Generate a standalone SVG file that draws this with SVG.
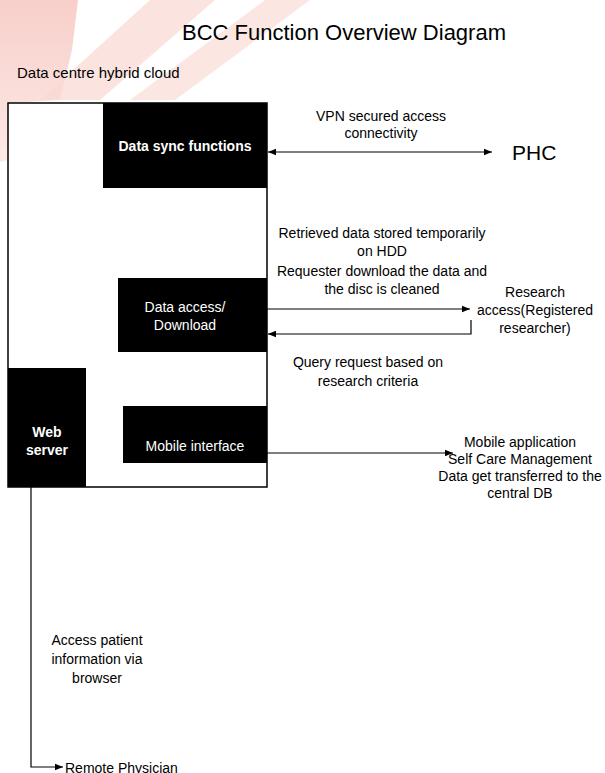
<svg xmlns="http://www.w3.org/2000/svg" width="605" height="773" viewBox="0 0 605 773">
<defs>
<style>
text{font-family:"Liberation Sans",Arial,sans-serif;fill:#000;}
.t{font-size:14px;text-anchor:middle;}
.w{fill:#fff;font-size:14px;text-anchor:middle;}
.wb{fill:#fff;font-size:14px;font-weight:bold;text-anchor:middle;}
.blk{fill:#000;}
.ln{stroke:#000;stroke-width:1.2;fill:none;}
.pk{fill:#f9d8d2;}
</style>
<marker id="ah" viewBox="0 0 10 10" refX="10" refY="5" markerWidth="8" markerHeight="8" markerUnits="userSpaceOnUse" orient="auto-start-reverse">
<path d="M0,1 L10,5 L0,9 z" fill="#000"/>
</marker>
<linearGradient id="pg" x1="0" y1="0" x2="0" y2="1">
<stop offset="0" stop-color="#f6c2bc"/>
<stop offset="1" stop-color="#fce4e0"/>
</linearGradient>
</defs>
<rect width="605" height="773" fill="#fff"/>
<g id="watermark">
<polygon points="0,0 78,0 72,50 60,100 8,103 8,160 0,162" fill="url(#pg)" opacity="0.8"/>
<polygon class="pk" points="150,0 215,0 100,100 40,100" opacity="0.7"/>
<polygon class="pk" points="265,0 310,0 175,100 130,100" opacity="0.65"/>
</g>
<text x="344" y="40" style="font-size:22px;text-anchor:middle">BCC Function Overview Diagram</text>
<text x="17" y="78" style="font-size:15px">Data centre hybrid cloud</text>
<g id="cloud"><rect x="8" y="103" width="259" height="384" fill="#fff" stroke="#000" stroke-width="1.5"/></g>
<g id="sync"><rect class="blk" x="103" y="103" width="164" height="85"/><text class="wb" x="185" y="151">Data sync functions</text></g>
<g id="access"><rect class="blk" x="118" y="278" width="149" height="74"/><text class="w" x="185" y="312">Data access/</text><text class="w" x="185" y="330">Download</text></g>
<g id="web"><rect class="blk" x="8" y="368" width="78" height="119"/><text class="wb" x="47" y="437">Web</text><text class="wb" x="47" y="455">server</text></g>
<g id="mobile"><rect class="blk" x="123" y="406" width="144" height="57"/><text class="w" x="195" y="451">Mobile interface</text></g>
<g id="phc"><text x="512" y="160" style="font-size:21px">PHC</text></g>
<g id="research"><text class="t" x="535" y="297">Research</text><text class="t" x="535" y="315">access(Registered</text><text class="t" x="535" y="333">researcher)</text></g>
<g id="mobileapp"><text class="t" x="520" y="447">Mobile application</text><text class="t" x="520" y="464">Self Care Management</text><text class="t" x="520" y="481">Data get transferred to the</text><text class="t" x="520" y="498">central DB</text></g>
<g id="physician"><text x="65" y="773" style="font-size:14px">Remote Physician</text></g>
<g id="connectors">
<line class="ln" x1="268" y1="152" x2="492" y2="152" marker-start="url(#ah)" marker-end="url(#ah)"/>
<line class="ln" x1="267" y1="309" x2="470" y2="309" marker-end="url(#ah)"/>
<polyline class="ln" points="471,320 471,334 268,334" marker-end="url(#ah)"/>
<line class="ln" x1="267" y1="453" x2="453" y2="453" marker-end="url(#ah)"/>
<polyline class="ln" points="31,487 31,767 63,767" marker-end="url(#ah)"/>
</g>
<g id="labels">
<text class="t" x="381" y="121">VPN secured access</text>
<text class="t" x="381" y="138">connectivity</text>
<text class="t" x="382" y="238">Retrieved data stored temporarily</text>
<text class="t" x="382" y="256">on HDD</text>
<text class="t" x="382" y="276">Requester download the data and</text>
<text class="t" x="382" y="294">the disc is cleaned</text>
<text class="t" x="368" y="367">Query request based on</text>
<text class="t" x="368" y="386">research criteria</text>
<text class="t" x="97" y="645">Access patient</text>
<text class="t" x="97" y="664">information via</text>
<text class="t" x="97" y="683">browser</text>
</g>
</svg>
